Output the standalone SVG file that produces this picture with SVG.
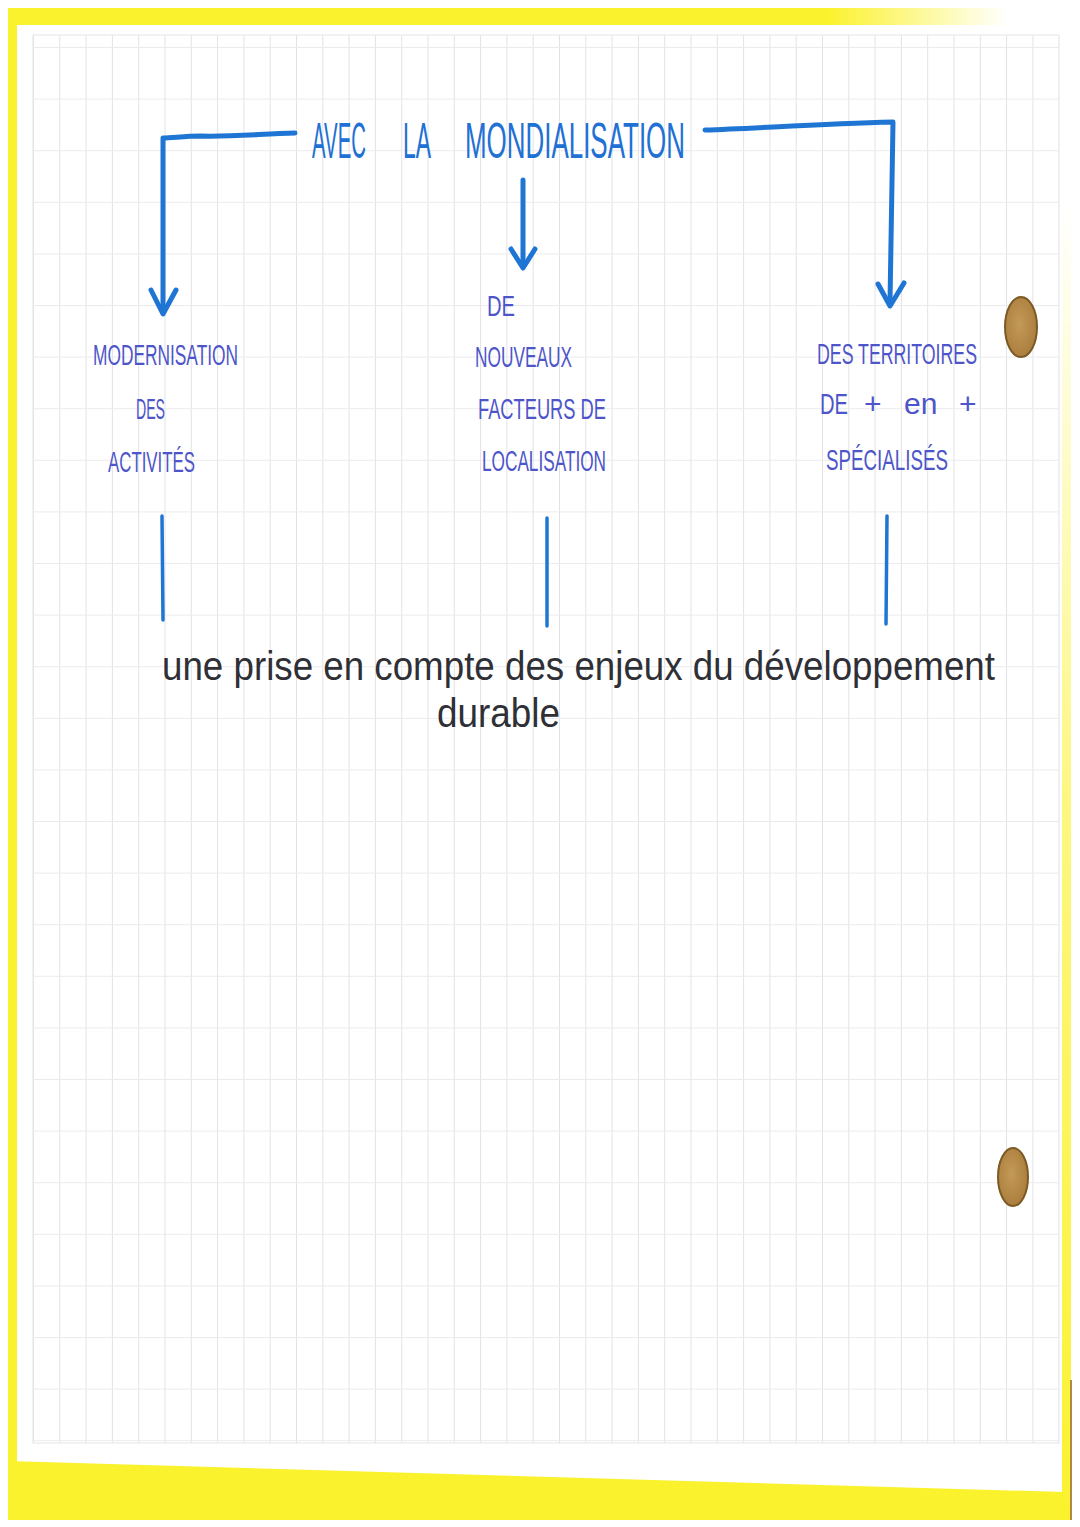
<svg xmlns="http://www.w3.org/2000/svg" width="1080" height="1527" viewBox="0 0 1080 1527">
  <defs>
    <linearGradient id="topFade" x1="0" y1="0" x2="1" y2="0">
      <stop offset="0" stop-color="#fbf22e"/>
      <stop offset="0.82" stop-color="#fbf22e"/>
      <stop offset="1" stop-color="#fbf22e" stop-opacity="0"/>
    </linearGradient>
    <linearGradient id="rightFade" x1="0" y1="0" x2="0" y2="1">
      <stop offset="0" stop-color="#fbf22e" stop-opacity="0"/>
      <stop offset="0.45" stop-color="#fbf22e" stop-opacity="0.6"/>
      <stop offset="1" stop-color="#fbf22e"/>
    </linearGradient>
    <radialGradient id="holeFill" cx="0.45" cy="0.45" r="0.6">
      <stop offset="0" stop-color="#c49a57"/>
      <stop offset="1" stop-color="#a97c3c"/>
    </radialGradient>
    <pattern id="gridV" x="33" y="0" width="26.3" height="10" patternUnits="userSpaceOnUse">
      <line x1="0.5" y1="0" x2="0.5" y2="10" stroke="#e2e2e6" stroke-width="1"/>
    </pattern>
    <pattern id="gridH" x="0" y="47" width="10" height="51.6" patternUnits="userSpaceOnUse">
      <line x1="0" y1="0.5" x2="10" y2="0.5" stroke="#ebebee" stroke-width="1"/>
    </pattern>
    <style>
      .blue { fill: none; stroke: #1f75d3; stroke-linecap: round; stroke-linejoin: round; }
      .main { stroke-width: 5; }
      .thin { stroke-width: 3.5; }
      .title { font-family: "Liberation Sans", "DejaVu Sans", sans-serif; font-size: 50px; fill: #2170d4; }
      .lbl { font-family: "Liberation Sans", "DejaVu Sans", sans-serif; font-size: 30px; fill: #4d55c9; }
      .hand { font-family: "Liberation Sans", "DejaVu Sans", sans-serif; font-size: 40px; fill: #2f2f36; }
    </style>
  </defs>

  <!-- background / paper -->
  <g id="paper">
    <rect x="0" y="0" width="1080" height="1527" fill="#ffffff"/>
    <rect x="8" y="8" width="9" height="1512" fill="#fbf22e"/>
    <rect x="8" y="8" width="1000" height="17" fill="url(#topFade)"/>
    <polygon points="8,1461 1064,1492 1068,1520 8,1520" fill="#fbf22e"/>
    <rect x="1062" y="200" width="9" height="1320" fill="url(#rightFade)"/>
    <line x1="1071" y1="1380" x2="1071" y2="1520" stroke="#b08a45" stroke-width="2"/>
    <rect x="33" y="35" width="1026" height="1408" fill="url(#gridV)"/>
    <rect x="33" y="35" width="1026" height="1408" fill="url(#gridH)"/>
    <rect x="33" y="35" width="1026" height="1408" fill="none" stroke="#e6e6ea" stroke-width="1"/>
    <ellipse cx="1021" cy="327" rx="16" ry="30" fill="url(#holeFill)" stroke="#7d5a25" stroke-width="2"/>
    <ellipse cx="1013" cy="1177" rx="15" ry="29" fill="url(#holeFill)" stroke="#7d5a25" stroke-width="2"/>
  </g>

  <!-- connectors -->
  <g id="connectors">
    <path class="blue main" d="M295,133 C260,134 230,137 200,136 C185,136 172,138 163,138 L163,312"/>
    <path class="blue main" d="M151,290 L163,314 L176,290"/>
    <path class="blue main" d="M705,130 C760,128 820,124 893,122 L890,302"/>
    <path class="blue main" d="M878,284 L890,306 L904,283"/>
    <path class="blue main" d="M523,180 L523,266"/>
    <path class="blue main" d="M511,249 L523,268 L535,249"/>
    <path class="blue thin" d="M162,516 L163,620"/>
    <path class="blue thin" d="M547,518 L547,626"/>
    <path class="blue thin" d="M887,516 L886,624"/>
  </g>

  <!-- title -->
  <g id="title">
    <text class="title" transform="translate(312,158) scale(0.5,1)" x="0" y="0" textLength="108" lengthAdjust="spacingAndGlyphs">AVEC</text>
    <text class="title" transform="translate(403,158) scale(0.5,1)" x="0" y="0" textLength="56" lengthAdjust="spacingAndGlyphs">LA</text>
    <text class="title" transform="translate(465,158) scale(0.5,1)" x="0" y="0" textLength="440" lengthAdjust="spacingAndGlyphs">MONDIALISATION</text>
  </g>

  <!-- node: modernisation -->
  <g id="node-modernisation">
    <text class="lbl" transform="translate(93,365) scale(0.6,1)" x="0" y="0" textLength="241.7" lengthAdjust="spacingAndGlyphs">MODERNISATION</text>
    <text class="lbl" transform="translate(136,419) scale(0.6,1)" x="0" y="0" textLength="48.3" lengthAdjust="spacingAndGlyphs">DES</text>
    <text class="lbl" transform="translate(108,472) scale(0.6,1)" x="0" y="0" textLength="145" lengthAdjust="spacingAndGlyphs">ACTIVITÉS</text>
  </g>

  <!-- node: nouveaux facteurs -->
  <g id="node-facteurs">
    <text class="lbl" transform="translate(487,316) scale(0.6,1)" x="0" y="0" textLength="46.7" lengthAdjust="spacingAndGlyphs">DE</text>
    <text class="lbl" transform="translate(475,367) scale(0.6,1)" x="0" y="0" textLength="161.7" lengthAdjust="spacingAndGlyphs">NOUVEAUX</text>
    <text class="lbl" transform="translate(478,419) scale(0.6,1)" x="0" y="0" textLength="213.3" lengthAdjust="spacingAndGlyphs">FACTEURS DE</text>
    <text class="lbl" transform="translate(482,471) scale(0.6,1)" x="0" y="0" textLength="206.7" lengthAdjust="spacingAndGlyphs">LOCALISATION</text>
  </g>

  <!-- node: territoires -->
  <g id="node-territoires">
    <text class="lbl" transform="translate(817,364) scale(0.6,1)" x="0" y="0" textLength="266.7" lengthAdjust="spacingAndGlyphs">DES TERRITOIRES</text>
    <text class="lbl" x="820" y="414"><tspan x="820" textLength="28" lengthAdjust="spacingAndGlyphs">DE</tspan><tspan x="864">+</tspan><tspan x="904">en</tspan><tspan x="959">+</tspan></text>
    <text class="lbl" transform="translate(826,470) scale(0.6,1)" x="0" y="0" textLength="203.3" lengthAdjust="spacingAndGlyphs">SPÉCIALISÉS</text>
  </g>

  <!-- node: conclusion -->
  <g id="node-developpement">
    <text class="hand" x="162" y="680" textLength="833" lengthAdjust="spacingAndGlyphs">une prise en compte des enjeux du développement</text>
    <text class="hand" x="437" y="727" textLength="123" lengthAdjust="spacingAndGlyphs">durable</text>
  </g>
</svg>
